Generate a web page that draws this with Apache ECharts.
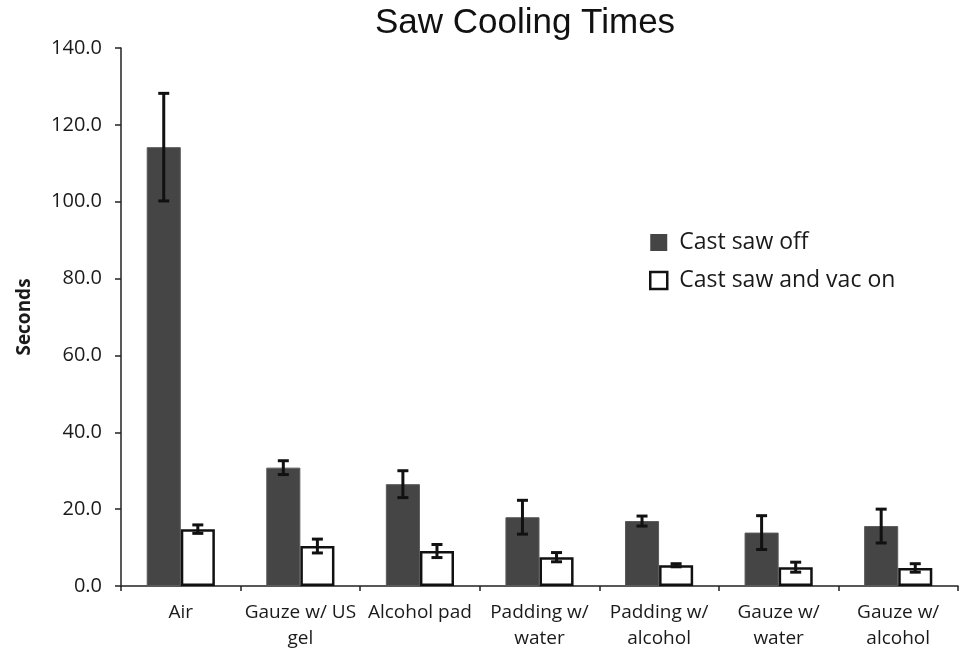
<!DOCTYPE html>
<html>
<head>
<meta charset="utf-8">
<script src="https://cdn.jsdelivr.net/npm/echarts@6/dist/echarts.min.js"></script>
<style>
  html, body { margin: 0; padding: 0; background: #fff; }
  #chart { width: 965px; height: 653px; }
</style>
</head>
<body>
<div id="chart"></div>
<script>
'use strict';
// categories and values
var categories = ['Air', 'Gauze w/ US\ngel', 'Alcohol pad', 'Padding w/\nwater', 'Padding w/\nalcohol', 'Gauze w/\nwater', 'Gauze w/\nalcohol'];
var sawOff = [114.2, 30.8, 26.5, 17.9, 16.9, 13.9, 15.6];
var sawOffErr = [14.0, 1.8, 3.5, 4.4, 1.3, 4.4, 4.4];
var sawVacOn = [14.8, 10.4, 9.1, 7.5, 5.4, 4.9, 4.7];
var sawVacOnErr = [1.1, 1.8, 1.7, 1.2, 0.4, 1.3, 1.1];
var yTicks = [0, 20, 40, 60, 80, 100, 120, 140];

var BAR_RATIO = 0.285; // 每根柱子占类目宽度
var textFont = '"Open Sans", "Liberation Sans", sans-serif';

// 误差线数据 [类目, 下限, 上限]
function errData(vals, errs) {
    var arr = [];
    for (var i = 0; i < vals.length; i++) {
        arr.push([i, vals[i] - errs[i], vals[i] + errs[i]]);
    }
    return arr;
}

function makeErrRender(side) {
    return function (params, api) {
        var idx = api.value(0);
        var band = api.size([1, 0])[0];
        var off = side * band * BAR_RATIO / 2;
        var lo = api.coord([idx, api.value(1)]);
        var hi = api.coord([idx, api.value(2)]);
        var x = lo[0] + off;
        var cap = 5.5;
        var style = { stroke: '#111', lineWidth: 3 };
        return {
            type: 'group',
            children: [
                { type: 'line', shape: { x1: x, y1: hi[1], x2: x, y2: lo[1] }, style: style },
                { type: 'line', shape: { x1: x - cap, y1: hi[1], x2: x + cap, y2: hi[1] }, style: style },
                { type: 'line', shape: { x1: x - cap, y1: lo[1], x2: x + cap, y2: lo[1] }, style: style }
            ]
        };
    };
}

var chart = echarts.init(document.getElementById('chart'));
var option = {
    backgroundColor: '#fff',
    animation: false,
    title: {
        text: 'Saw Cooling Times',
        left: 520,
        textAlign: 'center',
        top: 1,
        textStyle: { fontFamily: '"Liberation Sans", Arial, sans-serif', fontSize: 35, fontWeight: 'normal', color: '#111' }
    },
    legend: {
        orient: 'vertical',
        left: 644,
        top: 226,
        itemWidth: 17,
        itemHeight: 17,
        itemGap: 15,
        textStyle: { fontFamily: textFont, fontSize: 23, color: '#1a1a1a', padding: [0, 0, 0, 7] },
        data: [
            { name: 'Cast saw off', icon: 'rect', itemStyle: { color: '#454545', borderWidth: 0 } },
            { name: 'Cast saw and vac on', icon: 'rect', itemStyle: { color: '#fff', borderColor: '#111', borderWidth: 2.5 } }
        ]
    },
    grid: { left: 121, right: 7, top: 48, bottom: 67 },
    xAxis: {
        type: 'category',
        data: categories,
        axisLine: { lineStyle: { color: '#222', width: 1.5 } },
        axisTick: { show: true, length: 5, lineStyle: { color: '#222', width: 1.5 } },
        axisLabel: { fontFamily: textFont, fontSize: 19, color: '#1a1a1a', lineHeight: 26, margin: 14, interval: 0 }
    },
    yAxis: {
        type: 'value',
        min: 0,
        max: yTicks[yTicks.length - 1],
        interval: yTicks[1] - yTicks[0],
        name: 'Seconds',
        nameLocation: 'middle',
        nameGap: 87,
        nameTextStyle: { fontFamily: textFont, fontSize: 19, fontWeight: 'bold', color: '#1a1a1a' },
        splitLine: { show: false },
        axisLine: { show: true, lineStyle: { color: '#222', width: 1.5 } },
        axisTick: { show: true, length: 6, lineStyle: { color: '#222', width: 1.5 } },
        axisLabel: {
            fontFamily: textFont, fontSize: 20, color: '#1a1a1a', margin: 19,
            formatter: function (v) { return v.toFixed(1); }
        }
    },
    series: [
        {
            name: 'Cast saw off',
            type: 'bar',
            data: sawOff,
            barWidth: (BAR_RATIO * 100) + '%',
            barGap: '0%',
            itemStyle: { color: '#454545', borderColor: '#5a5a5a', borderWidth: 1 }
        },
        {
            name: 'Cast saw and vac on',
            type: 'bar',
            data: sawVacOn,
            barWidth: (BAR_RATIO * 100) + '%',
            barGap: '0%',
            itemStyle: { color: '#fff', borderColor: '#111', borderWidth: 2.5 }
        },
        {
            type: 'custom',
            renderItem: makeErrRender(-1),
            data: errData(sawOff, sawOffErr),
            z: 10
        },
        {
            type: 'custom',
            renderItem: makeErrRender(1),
            data: errData(sawVacOn, sawVacOnErr),
            z: 10
        }
    ]
};
chart.setOption(option);
</script>
</body>
</html>
